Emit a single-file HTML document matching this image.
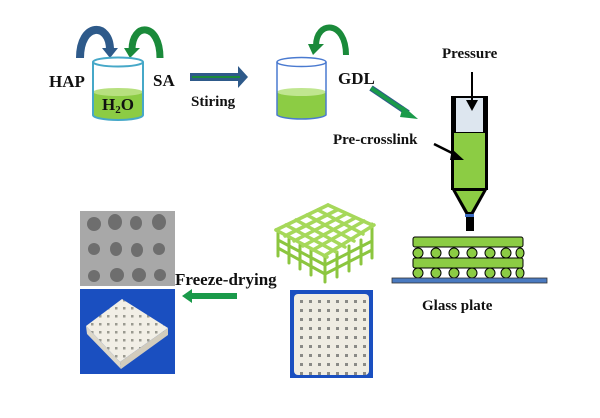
<!DOCTYPE html>
<html><head><style>
body{margin:0;background:#fff;}
svg{display:block;}
text{font-family:"Liberation Serif",serif;font-weight:bold;fill:#111;}
</style></head><body>
<svg width="600" height="418" viewBox="0 0 600 418">
<defs>
<pattern id="holes" width="8" height="8" patternUnits="userSpaceOnUse"><rect width="8" height="8" fill="#f2efe6"/><rect x="3" y="3" width="2.5" height="2.5" fill="#9a9a90"/></pattern>
<pattern id="holes2" width="9" height="9" patternUnits="userSpaceOnUse"><rect width="9" height="9" fill="#efece2"/><rect x="3" y="3" width="3" height="3" fill="#8a8a86"/></pattern>
</defs>
<!-- curved arrows beaker1 -->
<path d="M80,58 C80,22 110,22 110,50" fill="none" stroke="#2e5a8a" stroke-width="8"/>
<polygon points="102,48 118,48 110,58" fill="#2e5a8a"/>
<path d="M160,58 C160,22 132,22 132,50" fill="none" stroke="#1a8a3a" stroke-width="7"/>
<polygon points="124,48 140,48 130,58" fill="#1a8a3a"/>
<!-- beaker1 -->
<path d="M93,92 L93,115 A25,5 0 0 0 143,115 L143,92 Z" fill="#8ccc44"/>
<ellipse cx="118" cy="92" rx="25" ry="4" fill="#b7e07f"/>
<path d="M93,62 L93,115 A25,5 0 0 0 143,115 L143,62" fill="none" stroke="#46a8c8" stroke-width="2"/>
<ellipse cx="118" cy="62" rx="25" ry="4.5" fill="none" stroke="#46a8c8" stroke-width="2"/>
<text x="49" y="87" font-size="17">HAP</text>
<text x="153" y="86" font-size="17">SA</text>
<text x="102" y="110" font-size="17">H<tspan font-size="11" dy="3">2</tspan><tspan dy="-3">O</tspan></text>
<!-- stirring arrow -->
<polygon points="190,73 238,73 238,66 248,77 238,88 238,81 190,81" fill="#2e5a8a"/>
<line x1="192" y1="77" x2="240" y2="77" stroke="#1a8a3a" stroke-width="2"/>
<text x="191" y="106" font-size="15">Stiring</text>
<!-- beaker2 -->
<path d="M346,55 C346,20 316,20 316,46" fill="none" stroke="#1a8a3a" stroke-width="6"/>
<polygon points="308,44 324,44 313,55" fill="#1a8a3a"/>
<path d="M277,92 L277,115 A25,5 0 0 0 326,115 L326,92 Z" fill="#8ccc44"/>
<ellipse cx="301.5" cy="92" rx="24.5" ry="4" fill="#c0e690"/>
<path d="M277,62 L277,115 A25,5 0 0 0 326,115 L326,62" fill="none" stroke="#4a7ad0" stroke-width="1.5"/>
<ellipse cx="301.5" cy="62" rx="24.5" ry="4.5" fill="none" stroke="#4a7ad0" stroke-width="1.5"/>
<text x="338" y="84" font-size="17">GDL</text>
<!-- GDL arrow -->
<line x1="371" y1="88" x2="408" y2="113" stroke="#2e5a8a" stroke-width="6"/>
<line x1="371" y1="88" x2="408" y2="113" stroke="#1a9a4a" stroke-width="4"/>
<polygon points="403,106 418,119 400,117" fill="#1a9a4a"/>
<!-- syringe -->
<text x="442" y="58" font-size="15">Pressure</text>
<rect x="451" y="96" width="37" height="94" fill="#000"/>
<rect x="456" y="98" width="27" height="34" fill="#dde6ef"/>
<rect x="454" y="133" width="31" height="57" fill="#8ccc44"/>
<polygon points="451,188 488,188 473,215 466,215" fill="#000"/>
<polygon points="456,191 483,191 471,212 468,212" fill="#8ccc44"/>
<rect x="465" y="214" width="9" height="3" fill="#3a6ac0"/>
<rect x="466" y="217" width="8" height="14" fill="#000"/>
<line x1="472" y1="72" x2="472" y2="104" stroke="#000" stroke-width="2"/>
<polygon points="466,100 478,100 472,111" fill="#000"/>
<text x="333" y="144" font-size="15">Pre-crosslink</text>
<line x1="434" y1="144" x2="456" y2="155" stroke="#000" stroke-width="2.5"/>
<polygon points="452,149 464,160 450,160" fill="#000"/>
<!-- printed layers -->
<g stroke="#000" stroke-width="1" fill="#8ccc44">
<rect x="413" y="237" width="110" height="10" rx="2"/>
<rect x="413" y="258" width="110" height="10" rx="2"/>
<ellipse cx="418" cy="253" rx="5" ry="5"/><ellipse cx="436" cy="253" rx="5" ry="5"/><ellipse cx="454" cy="253" rx="5" ry="5"/><ellipse cx="472" cy="253" rx="5" ry="5"/><ellipse cx="490" cy="253" rx="5" ry="5"/><ellipse cx="506" cy="253" rx="5" ry="5"/><ellipse cx="520" cy="253" rx="4" ry="5"/>
<ellipse cx="418" cy="273" rx="5" ry="5"/><ellipse cx="436" cy="273" rx="5" ry="5"/><ellipse cx="454" cy="273" rx="5" ry="5"/><ellipse cx="472" cy="273" rx="5" ry="5"/><ellipse cx="490" cy="273" rx="5" ry="5"/><ellipse cx="506" cy="273" rx="5" ry="5"/><ellipse cx="520" cy="273" rx="4" ry="5"/>
</g>
<rect x="392" y="278" width="155" height="5" fill="#4a7ac0" stroke="#333" stroke-width="0.8"/>
<text x="422" y="310" font-size="15">Glass plate</text>
<!-- lattice: box from top face (276,230)(328,205)(372,222)(327,255), down to 282 -->
<g stroke="#8cc63f" stroke-width="3" stroke-linecap="round">
<!-- vertical posts -->
<line x1="278" y1="232" x2="278" y2="256"/><line x1="289" y1="239" x2="289" y2="263"/><line x1="300" y1="245" x2="300" y2="269"/><line x1="311" y1="250" x2="311" y2="275"/><line x1="325" y1="256" x2="325" y2="282"/>
<line x1="337" y1="252" x2="337" y2="277"/><line x1="349" y1="246" x2="349" y2="271"/><line x1="361" y1="240" x2="361" y2="264"/><line x1="372" y1="224" x2="372" y2="258"/>
<!-- lower layers -->
<line x1="278" y1="248" x2="325" y2="274"/><line x1="325" y1="274" x2="372" y2="250"/>
<line x1="278" y1="240" x2="325" y2="265"/><line x1="325" y1="265" x2="372" y2="241"/>
</g>
<g stroke="#a6d85a" stroke-width="3.5" stroke-linecap="round">
<!-- top face rods left-back to right-front direction -->
<line x1="276" y1="230" x2="327" y2="257"/><line x1="286" y1="225" x2="336" y2="252"/><line x1="296" y1="220" x2="345" y2="247"/><line x1="307" y1="215" x2="354" y2="241"/><line x1="318" y1="210" x2="363" y2="234"/><line x1="328" y1="205" x2="372" y2="225"/>
<!-- crossing rods -->
<line x1="276" y1="230" x2="328" y2="205"/><line x1="285" y1="236" x2="337" y2="210"/><line x1="294" y1="241" x2="346" y2="214"/><line x1="303" y1="246" x2="355" y2="218"/><line x1="313" y1="250" x2="364" y2="221"/><line x1="324" y1="256" x2="374" y2="225"/>
</g>
<!-- SEM -->
<rect x="80" y="211" width="95" height="75" fill="#a8a8a8"/>
<g fill="#6e6e6e">
<ellipse cx="94" cy="224" rx="7" ry="7"/><ellipse cx="115" cy="222" rx="7" ry="8"/><ellipse cx="136" cy="223" rx="6" ry="7"/><ellipse cx="159" cy="222" rx="7" ry="8"/>
<ellipse cx="94" cy="249" rx="6" ry="6"/><ellipse cx="116" cy="249" rx="6" ry="7"/><ellipse cx="137" cy="250" rx="6" ry="7"/><ellipse cx="159" cy="249" rx="6" ry="6"/>
<ellipse cx="94" cy="276" rx="6" ry="6"/><ellipse cx="117" cy="275" rx="7" ry="7"/><ellipse cx="139" cy="275" rx="7" ry="7"/><ellipse cx="160" cy="275" rx="6" ry="6"/>
</g>
<!-- photos -->
<rect x="80" y="289" width="95" height="85" fill="#1a4fc0"/>
<polygon points="86,326 122,299 168,328 120,362" fill="url(#holes)"/>
<polygon points="86,326 120,362 121,369 87,334" fill="#dcd7ca"/>
<polygon points="120,362 168,328 168,335 121,369" fill="#d2ccbd"/>
<rect x="290" y="290" width="83" height="88" fill="#1a4fc0"/>
<rect x="294" y="294" width="75" height="81" rx="4" fill="url(#holes2)"/>
<text x="175" y="285" font-size="17">Freeze-drying</text>
<polygon points="237,293 192,293 192,289 182,296 192,303 192,299 237,299" fill="#1a9a4a"/>
</svg>
</body></html>
